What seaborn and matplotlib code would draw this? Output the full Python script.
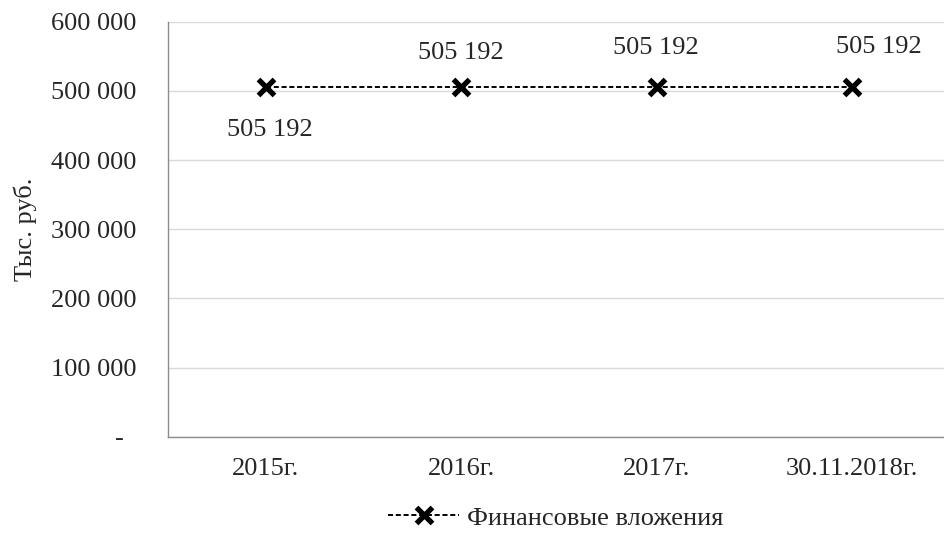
import pandas as pd
import seaborn as sns
import matplotlib.pyplot as plt
from matplotlib.ticker import FuncFormatter, FixedLocator

# data
periods = ['2015г.', '2016г.', '2017г.', '30.11.2018г.']
investments = [505192, 505192, 505192, 505192]
series_name = 'Финансовые вложения'
y_ticks = [0, 100000, 200000, 300000, 400000, 500000, 600000]

df = pd.DataFrame({'period': periods, 'value': investments})

sns.set_style('white')
plt.rcParams['font.family'] = ['Liberation Serif', 'DejaVu Serif']
FS = 19

fig = plt.figure(figsize=(9.44, 5.44), dpi=100)
ax = fig.add_axes([0.178, 0.197, 0.822, 0.763])

sns.lineplot(data=df, x='period', y='value', ax=ax, color='black',
             linestyle=(0, (2.6, 1.4)), linewidth=1.4, marker='x',
             markersize=11, markeredgewidth=3.8, markeredgecolor='black',
             label=series_name, sort=False)

ax.set_xlim(-0.5, 3.469)
ax.set_ylim(0, 600000)
ax.yaxis.set_major_locator(FixedLocator(y_ticks))
# accounting style: zero shown as a dash, padded like Excel does
ax.yaxis.set_major_formatter(FuncFormatter(
    lambda v, _: '-  ' if v == 0 else f'{int(v):,}'.replace(',', ' ')))

# Excel-like category ticks between categories
ax.xaxis.set_major_locator(FixedLocator([0, 1, 2, 3]))
ax.xaxis.set_minor_locator(FixedLocator([-0.5, 0.5, 1.5, 2.5, 3.5]))
ax.tick_params(axis='x', which='major', length=0, pad=15, labelsize=FS)
ax.tick_params(axis='x', which='minor', length=6, color='#8c8c8c', width=1)
ax.tick_params(axis='y', length=6, color='#8c8c8c', width=1, pad=16.5, labelsize=FS)

ax.grid(axis='y', color='#d9d9d9', linewidth=1)
for s in ['top', 'right']:
    ax.spines[s].set_visible(False)
for s in ['left', 'bottom']:
    ax.spines[s].set_color('#8c8c8c')
    ax.spines[s].set_linewidth(1)

ax.set_xlabel('')
ax.set_ylabel('Тыс. руб.', fontsize=FS, labelpad=10)

# data labels
offsets = [(3, -31), (0, 25), (-1, 28), (19, 29)]
for i, (v, off) in enumerate(zip(investments, offsets)):
    ax.annotate(f'{v:,}'.replace(',', ' '), (i, v), xytext=off,
                textcoords='offset points', ha='center', va='center',
                fontsize=FS)

ax.legend(loc='center', bbox_to_anchor=(0.5, -0.195), frameon=False,
          fontsize=FS, handlelength=2.7, handletextpad=0.3)

fig.savefig('out.png', dpi=100)
